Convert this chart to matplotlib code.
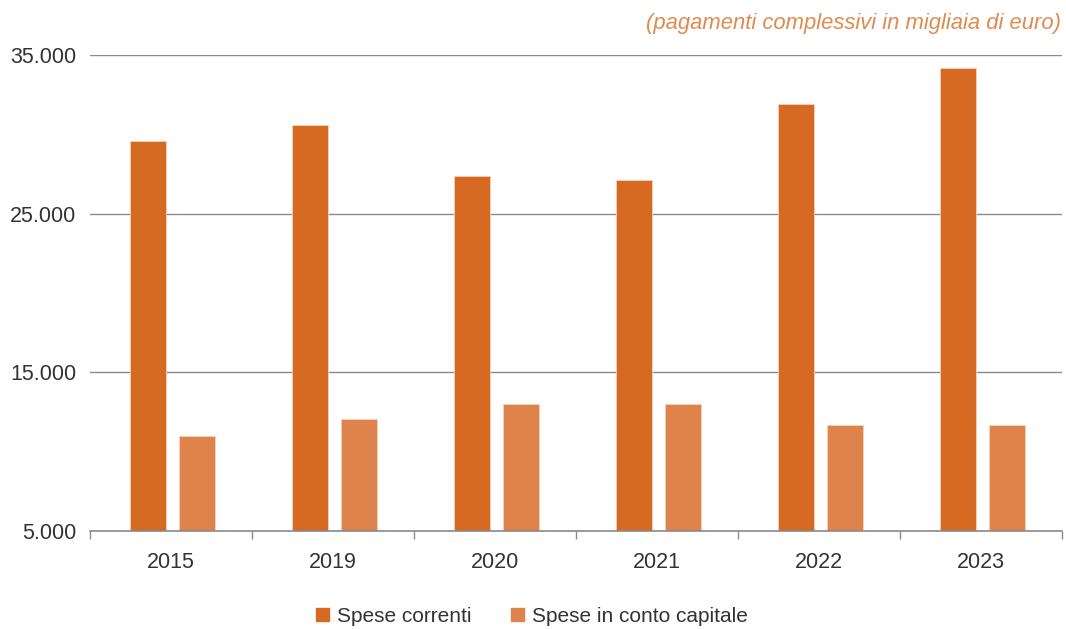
import numpy as np
import matplotlib.pyplot as plt
from matplotlib.ticker import FuncFormatter, FixedLocator
from matplotlib.patches import Patch

anni = ["2015", "2019", "2020", "2021", "2022", "2023"]
spese_correnti = [29600, 30600, 27400, 27100, 31900, 34200]
spese_capitale = [11000, 12050, 13000, 13000, 11700, 11700]

col_correnti = "#D66A23"
col_capitale = "#DE834B"
testo = "#333333"

plt.rcParams["font.family"] = ["Liberation Sans", "DejaVu Sans"]

fig = plt.figure(figsize=(10.66, 6.29), dpi=100)
ax = fig.add_axes([0.0845, 0.156, 0.9115, 0.7566])

x = np.arange(len(anni))
w = 0.222
ax.bar(x - 0.14, spese_correnti, w, color=col_correnti, edgecolor="#f3d2bc",
       linewidth=0.6, zorder=3)
ax.bar(x + 0.16, spese_capitale, w, color=col_capitale, edgecolor="#f3d2bc",
       linewidth=0.6, zorder=3)

ax.set_xlim(-0.5, len(anni) - 0.5)
ax.set_ylim(5000, 35000)
ax.set_yticks([5000, 15000, 25000, 35000])
ax.yaxis.set_major_formatter(FuncFormatter(lambda v, p: f"{int(v):,}".replace(",", ".")))
ax.grid(axis="y", color="#8a8a8a", linewidth=1.0, zorder=0)

for s in ["top", "right", "left"]:
    ax.spines[s].set_visible(False)
ax.spines["bottom"].set_color("#8a8a8a")
ax.spines["bottom"].set_linewidth(1.2)
ax.spines["bottom"].set_zorder(4)

ax.set_xticks(x)
ax.set_xticklabels(anni)
ax.xaxis.set_minor_locator(FixedLocator(np.arange(-0.5, len(anni), 1.0)))
ax.tick_params(axis="x", which="major", length=0, pad=15, labelsize=15.5, labelcolor=testo)
ax.tick_params(axis="x", which="minor", length=6, color="#8a8a8a", width=1)
ax.tick_params(axis="y", length=0, pad=10, labelsize=15.5, labelcolor=testo)

fig.text(0.995, 0.962, "(pagamenti complessivi in migliaia di euro)", ha="right",
         va="center", style="italic", fontsize=15.8, color="#E08A50")

handles = [Patch(color=col_correnti, label="Spese correnti"),
           Patch(color=col_capitale, label="Spese in conto capitale")]
fig.legend(handles=handles, loc="center", bbox_to_anchor=(0.499, 0.02), ncol=2,
           frameon=False, fontsize=15, labelcolor=testo, handlelength=0.6,
           handleheight=0.6, handletextpad=0.4, columnspacing=1.9)

fig.savefig("out.png", dpi=100)
